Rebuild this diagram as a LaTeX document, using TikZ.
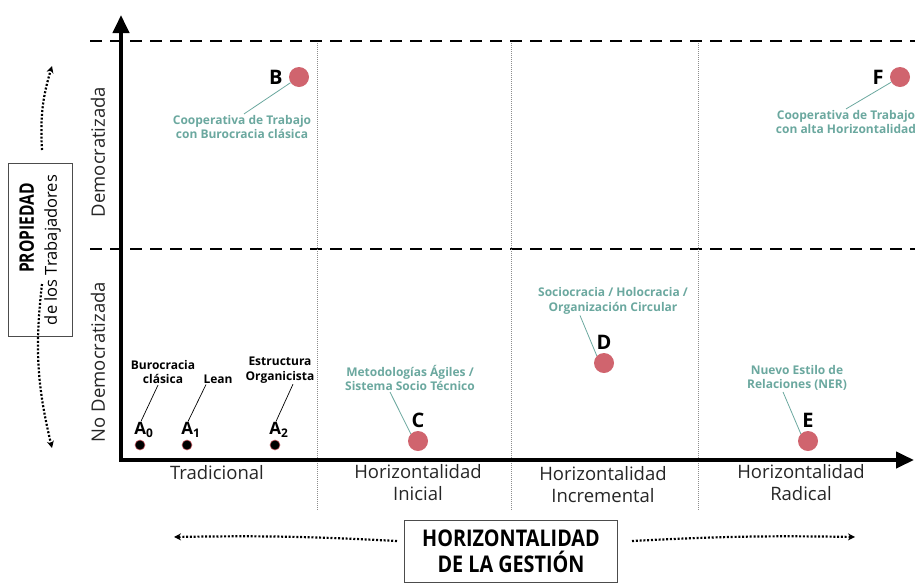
\documentclass[tikz,border=0pt]{standalone}
\usepackage{fontspec}
\setmainfont{Open Sans}
\usepackage{xcolor}
\usetikzlibrary{arrows.meta,positioning}
\definecolor{dotred}{HTML}{D0646E}
\definecolor{noteteal}{HTML}{6BA89F}
\tikzset{
    case-dot/.style = {circle, fill=dotred, minimum size=20pt, inner sep=0pt},
    small-dot/.style = {circle, fill=black, draw=dotred, line width=0.6pt, minimum size=10pt, inner sep=0pt},
    case-letter/.style = {inner sep=1pt, font=\fontsize{20}{20}\selectfont\bfseries},
    sub-letter/.style = {inner sep=1pt, font=\fontsize{17}{17}\selectfont\bfseries},
    case-note/.style = {text=noteteal, inner sep=1pt, align=center, font=\fontsize{12}{14.5}\selectfont\bfseries},
    black-note/.style = {inner sep=1pt, align=center, font=\fontsize{12}{14.5}\selectfont\bfseries},
    leader-line/.style = {draw=noteteal, line width=0.8pt},
    black-leader/.style = {draw=black, line width=0.7pt},
    axis-label/.style = {text=black!85, align=center, font=\fontsize{18.5}{22}\selectfont},
    axis-line/.style = {line width=4pt, line cap=rect, -{Triangle[length=18pt,width=16pt]}},
    title-box/.style = {draw=black!70, line width=0.8pt, fill=white, align=center},
    split-line/.style = {line width=2.4pt, dash pattern=on 12pt off 8pt},
    column-line/.style = {draw=black!45, line width=0.7pt, dash pattern=on 1pt off 1pt},
    hint-arrow/.style = {line width=2.2pt, dash pattern=on 2pt off 1.8pt, -{Stealth[length=7pt,width=7pt]}},
}

\begin{document}
\begin{tikzpicture}[x=1pt,y=-1pt]
\useasboundingbox (0,0) rectangle (915,582);

% row borders and columns
\coordinate (top-left) at (90,41);
\coordinate (top-right) at (915,41);
\coordinate (mid-left) at (90,249);
\coordinate (mid-right) at (915,249);
\draw[split-line] (top-left) -- (top-right);
\draw[split-line] (mid-left) -- (mid-right);
\foreach \cx/\cname in {317/ini,511/inc,698/rad} {
    \coordinate (\cname-top) at (\cx,43);
    \coordinate (\cname-bottom) at (\cx,510);
    \draw[column-line] (\cname-top) -- (\cname-bottom);
}

% axes
\coordinate (origin) at (121,460);
\coordinate (y-end) at (121,15);
\coordinate (x-end) at (914,460);
\draw[axis-line] (origin) -- (y-end);
\draw[axis-line] (origin) -- (x-end);

% column labels
\node[axis-label] (col-trad) at (217,473) {Tradicional};
\node[axis-label] (col-ini) at (418,483) {Horizontalidad\\Inicial};
\node[axis-label] (col-inc) at (603,485) {Horizontalidad\\Incremental};
\node[axis-label] (col-rad) at (801,483) {Horizontalidad\\Radical};

% row labels
\node[axis-label, rotate=90] (row-demo) at (98,152) {Democratizada};
\node[axis-label, rotate=90] (row-nodemo) at (98,362) {No Democratizada};

% vertical title
\node[title-box, rotate=90, minimum width=173pt, minimum height=64pt, font=\fontsize{16.5}{23}\selectfont] (own-box) at (40,250)
    {\hspace*{44pt}{\fontsize{20}{23}\selectfont\bfseries\addfontfeature{FakeStretch=0.78}PROPIEDAD}\\de los Trabajadores};
\coordinate (own-up-start) at (42,150);
\coordinate (own-up-tip) at (52,66);
\coordinate (own-down-start) at (42,284);
\coordinate (own-down-tip) at (52,448);
\draw[hint-arrow] (own-up-start) to[bend left=10] (own-up-tip);
\draw[hint-arrow] (own-down-start) to[bend right=10] (own-down-tip);

% horizontal title
\node[title-box, minimum width=213pt, minimum height=62pt, font=\fontsize{23}{26}\selectfont\bfseries\addfontfeature{FakeStretch=0.86}] (mgmt-box) at (511,551)
    {HORIZONTALIDAD\\DE LA GESTIÓN};
\coordinate (mgmt-left-start) at (397,541);
\coordinate (mgmt-left-tip) at (174,537);
\coordinate (mgmt-right-start) at (632,541);
\coordinate (mgmt-right-tip) at (855,537);
\draw[hint-arrow] (mgmt-left-start) to[bend right=2] (mgmt-left-tip);
\draw[hint-arrow] (mgmt-right-start) to[bend left=2] (mgmt-right-tip);

% A cases
\node[small-dot] (a0-dot) at (140,445) {};
\node[small-dot] (a1-dot) at (187,445) {};
\node[small-dot] (a2-dot) at (275,445) {};
\node[sub-letter, above=1pt of a0-dot, xshift=4pt] (a0-letter) {A\textsubscript{0}};
\node[sub-letter, above=1pt of a1-dot, xshift=4pt] (a1-letter) {A\textsubscript{1}};
\node[sub-letter, above=1pt of a2-dot, xshift=4pt] (a2-letter) {A\textsubscript{2}};
\node[black-note] (a0-note) at (163,372) {Burocracia\\clásica};
\node[black-note] (a1-note) at (218,379) {Lean};
\node[black-note] (a2-note) at (280,370) {Estructura\\Organicista};
\draw[black-leader] ([xshift=-3pt]a0-letter.north) -- ([xshift=-5pt]a0-note.south);
\draw[black-leader] ([xshift=-3pt]a1-letter.north) -- ([xshift=-12pt]a1-note.south);
\draw[black-leader] ([xshift=-3pt]a2-letter.north) -- ([xshift=13pt]a2-note.south);

% B and F
\node[case-dot] (b-dot) at (299,77) {};
\node[case-letter, left=5pt of b-dot] (b-letter) {B};
\node[case-note] (b-note) at (242,127) {Cooperativa de Trabajo\\con Burocracia clásica};
\draw[leader-line] (b-dot) -- ([xshift=2pt]b-note.north);

\node[case-dot] (f-dot) at (900,77) {};
\node[case-letter, left=5pt of f-dot] (f-letter) {F};
\node[case-note] (f-note) at (846,122) {Cooperativa de Trabajo\\con alta Horizontalidad};
\draw[leader-line] (f-dot) -- (f-note.north);

% C, D and E
\node[case-dot] (c-dot) at (418,441) {};
\node[case-letter, above=2pt of c-dot] (c-letter) {C};
\node[case-note] (c-note) at (410,378) {Metodologías Ágiles /\\Sistema Socio Técnico};
\draw[leader-line] (c-dot.north west) -- ([xshift=-20pt]c-note.south);

\node[case-dot] (d-dot) at (604,363) {};
\node[case-letter, above=2pt of d-dot] (d-letter) {D};
\node[case-note] (d-note) at (613,301) {Sociocracia / Holocracia /\\Organización Circular};
\draw[leader-line] (d-dot.north west) -- ([xshift=-33pt]d-note.south);

\node[case-dot] (e-dot) at (808,441) {};
\node[case-letter, above=2pt of e-dot] (e-letter) {E};
\node[case-note] (e-note) at (797,378) {Nuevo Estilo de\\Relaciones (NER)};
\draw[leader-line] (e-dot.north west) -- ([xshift=-14pt]e-note.south);
\end{tikzpicture}
\end{document}
